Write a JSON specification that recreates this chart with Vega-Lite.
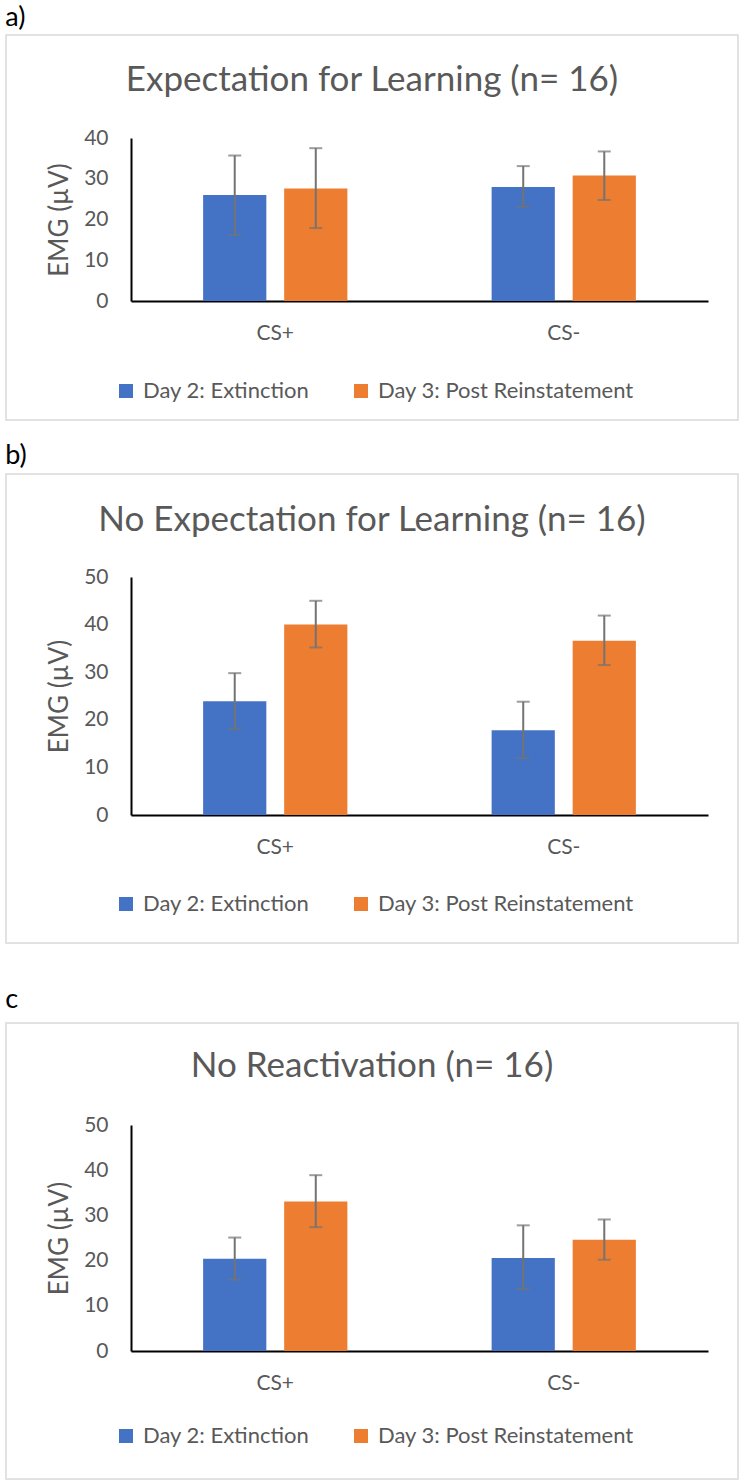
{
  "$schema": "https://vega.github.io/schema/vega-lite/v6.json",
  "background": "white",
  "padding": {"left": 5, "right": 5, "top": 4, "bottom": 2},
  "config": {
    "font": "Lato",
    "view": {"stroke": "#D9D9D9", "strokeWidth": 1.5},
    "axis": {
      "domainColor": "black",
      "domainWidth": 2,
      "ticks": false,
      "grid": false,
      "labelColor": "#595959",
      "labelFontSize": 21,
      "titleColor": "#595959",
      "titleFontSize": 26,
      "titleFontWeight": "normal"
    },
    "legend": {
      "orient": "none",
      "direction": "horizontal",
      "symbolType": "square",
      "symbolSize": 196,
      "symbolStrokeWidth": 0,
      "labelFontSize": 22,
      "labelColor": "#595959",
      "labelOffset": 6,
      "labelLimit": 400,
      "columnPadding": 40,
      "legendX": 109
    },
    "title": {"fontWeight": "normal", "baseline": "alphabetic"}
  },
  "data": {
    "values": [
      {"panel": "a", "cs": "CS+", "day": "Day 2: Extinction", "mean": 26.0, "lo": 16.2, "hi": 35.7},
      {"panel": "a", "cs": "CS+", "day": "Day 3: Post Reinstatement", "mean": 27.6, "lo": 17.9, "hi": 37.5},
      {"panel": "a", "cs": "CS-", "day": "Day 2: Extinction", "mean": 28.0, "lo": 23.1, "hi": 33.1},
      {"panel": "a", "cs": "CS-", "day": "Day 3: Post Reinstatement", "mean": 30.8, "lo": 24.8, "hi": 36.7},
      {"panel": "b", "cs": "CS+", "day": "Day 2: Extinction", "mean": 23.9, "lo": 18.0, "hi": 29.8},
      {"panel": "b", "cs": "CS+", "day": "Day 3: Post Reinstatement", "mean": 40.0, "lo": 35.2, "hi": 45.0},
      {"panel": "b", "cs": "CS-", "day": "Day 2: Extinction", "mean": 17.8, "lo": 12.0, "hi": 23.8},
      {"panel": "b", "cs": "CS-", "day": "Day 3: Post Reinstatement", "mean": 36.6, "lo": 31.5, "hi": 41.9},
      {"panel": "c", "cs": "CS+", "day": "Day 2: Extinction", "mean": 20.4, "lo": 15.8, "hi": 25.1},
      {"panel": "c", "cs": "CS+", "day": "Day 3: Post Reinstatement", "mean": 33.1, "lo": 27.4, "hi": 38.9},
      {"panel": "c", "cs": "CS-", "day": "Day 2: Extinction", "mean": 20.6, "lo": 13.7, "hi": 27.8},
      {"panel": "c", "cs": "CS-", "day": "Day 3: Post Reinstatement", "mean": 24.6, "lo": 20.2, "hi": 29.1}
    ]
  },
  "spacing": 21,
  "resolve": {"scale": {"color": "independent"}, "legend": {"color": "independent"}},
  "vconcat": [
    {
      "title": {"text": "a)", "anchor": "start", "fontSize": 27, "color": "black", "offset": 2},
      "resolve": {"scale": {"color": "independent"}, "legend": {"color": "independent"}},
      "vconcat": [
        {
          "width": 732,
          "height": 385,
          "title": {"text": "Expectation for Learning (n= 16)", "fontSize": 35, "color": "#595959", "anchor": "middle", "offset": -63},
          "transform": [{"filter": "datum.panel == 'a'"}],
          "encoding": {
            "x": {"field": "cs", "type": "nominal", "sort": ["CS+", "CS-"], "title": null,
                  "scale": {"range": [125, 702], "paddingInner": 0.5, "paddingOuter": 0.25},
                  "axis": {"orient": "bottom", "offset": -119, "labelAngle": 0, "labelPadding": 21}},
            "xOffset": {"field": "day", "type": "nominal", "scale": {"paddingInner": 0.22, "paddingOuter": 0}}
          },
          "layer": [
            {
              "mark": "bar",
              "encoding": {
                "y": {"field": "mean", "type": "quantitative", "title": "EMG (µV)",
                      "scale": {"domain": [0, 40], "range": [266, 103], "nice": false},
                      "axis": {"offset": -125, "values": [0, 10, 20, 30, 40], "labelPadding": 23, "titleX": -72, "titleBaseline": "middle"}},
                "color": {"field": "day", "type": "nominal", "title": null,
                          "scale": {"domain": ["Day 2: Extinction", "Day 3: Post Reinstatement"], "range": ["#4472C4", "#ED7D31"]},
                          "legend": {"legendY": 345}}
              }
            },
            {
              "mark": {"type": "rule", "color": "#737373", "strokeWidth": 2},
              "encoding": {
                "y": {"field": "lo", "type": "quantitative", "title": "EMG (µV)"},
                "y2": {"field": "hi"}
              }
            },
            {
              "mark": {"type": "tick", "color": "#737373", "thickness": 2, "size": 13},
              "encoding": {"y": {"field": "lo", "type": "quantitative", "title": "EMG (µV)"}}
            },
            {
              "mark": {"type": "tick", "color": "#737373", "thickness": 2, "size": 13},
              "encoding": {"y": {"field": "hi", "type": "quantitative", "title": "EMG (µV)"}}
            }
          ]
        }
      ]
    },
    {
      "spacing": 42,
      "resolve": {"scale": {"color": "independent"}, "legend": {"color": "independent"}},
      "vconcat": [
        {
          "title": {"text": "b)", "anchor": "start", "fontSize": 27, "color": "black", "offset": 3},
          "resolve": {"scale": {"color": "independent"}, "legend": {"color": "independent"}},
          "vconcat": [
            {
              "width": 732,
              "height": 469,
              "title": {"text": "No Expectation for Learning (n= 16)", "fontSize": 35, "color": "#595959", "anchor": "middle", "offset": -64},
              "transform": [{"filter": "datum.panel == 'b'"}],
              "encoding": {
                "x": {"field": "cs", "type": "nominal", "sort": ["CS+", "CS-"], "title": null,
                      "scale": {"range": [125, 702], "paddingInner": 0.5, "paddingOuter": 0.25},
                      "axis": {"orient": "bottom", "offset": -128, "labelAngle": 0, "labelPadding": 21}},
                "xOffset": {"field": "day", "type": "nominal", "scale": {"paddingInner": 0.22, "paddingOuter": 0}}
              },
              "layer": [
                {
                  "mark": "bar",
                  "encoding": {
                    "y": {"field": "mean", "type": "quantitative", "title": "EMG (µV)",
                          "scale": {"domain": [0, 50], "range": [341, 103], "nice": false},
                          "axis": {"offset": -125, "values": [0, 10, 20, 30, 40, 50], "labelPadding": 23, "titleX": -72, "titleBaseline": "middle"}},
                    "color": {"field": "day", "type": "nominal", "title": null,
                              "scale": {"domain": ["Day 2: Extinction", "Day 3: Post Reinstatement"], "range": ["#4472C4", "#ED7D31"]},
                              "legend": {"legendY": 419}}
                  }
                },
                {
                  "mark": {"type": "rule", "color": "#737373", "strokeWidth": 2},
                  "encoding": {
                    "y": {"field": "lo", "type": "quantitative", "title": "EMG (µV)"},
                    "y2": {"field": "hi"}
                  }
                },
                {
                  "mark": {"type": "tick", "color": "#737373", "thickness": 2, "size": 13},
                  "encoding": {"y": {"field": "lo", "type": "quantitative", "title": "EMG (µV)"}}
                },
                {
                  "mark": {"type": "tick", "color": "#737373", "thickness": 2, "size": 13},
                  "encoding": {"y": {"field": "hi", "type": "quantitative", "title": "EMG (µV)"}}
                }
              ]
            }
          ]
        },
        {
          "title": {"text": "c", "anchor": "start", "fontSize": 27, "color": "black", "offset": 8},
          "resolve": {"scale": {"color": "independent"}, "legend": {"color": "independent"}},
          "vconcat": [
            {
              "width": 732,
              "height": 456,
              "title": {"text": "No Reactivation (n= 16)", "fontSize": 35, "color": "#595959", "anchor": "middle", "offset": -61},
              "transform": [{"filter": "datum.panel == 'c'"}],
              "encoding": {
                "x": {"field": "cs", "type": "nominal", "sort": ["CS+", "CS-"], "title": null,
                      "scale": {"range": [125, 702], "paddingInner": 0.5, "paddingOuter": 0.25},
                      "axis": {"orient": "bottom", "offset": -128, "labelAngle": 0, "labelPadding": 21}},
                "xOffset": {"field": "day", "type": "nominal", "scale": {"paddingInner": 0.22, "paddingOuter": 0}}
              },
              "layer": [
                {
                  "mark": "bar",
                  "encoding": {
                    "y": {"field": "mean", "type": "quantitative", "title": "EMG (µV)",
                          "scale": {"domain": [0, 50], "range": [328, 102], "nice": false},
                          "axis": {"offset": -125, "values": [0, 10, 20, 30, 40, 50], "labelPadding": 23, "titleX": -72, "titleBaseline": "middle"}},
                    "color": {"field": "day", "type": "nominal", "title": null,
                              "scale": {"domain": ["Day 2: Extinction", "Day 3: Post Reinstatement"], "range": ["#4472C4", "#ED7D31"]},
                              "legend": {"legendY": 402}}
                  }
                },
                {
                  "mark": {"type": "rule", "color": "#737373", "strokeWidth": 2},
                  "encoding": {
                    "y": {"field": "lo", "type": "quantitative", "title": "EMG (µV)"},
                    "y2": {"field": "hi"}
                  }
                },
                {
                  "mark": {"type": "tick", "color": "#737373", "thickness": 2, "size": 13},
                  "encoding": {"y": {"field": "lo", "type": "quantitative", "title": "EMG (µV)"}}
                },
                {
                  "mark": {"type": "tick", "color": "#737373", "thickness": 2, "size": 13},
                  "encoding": {"y": {"field": "hi", "type": "quantitative", "title": "EMG (µV)"}}
                }
              ]
            }
          ]
        }
      ]
    }
  ]
}
